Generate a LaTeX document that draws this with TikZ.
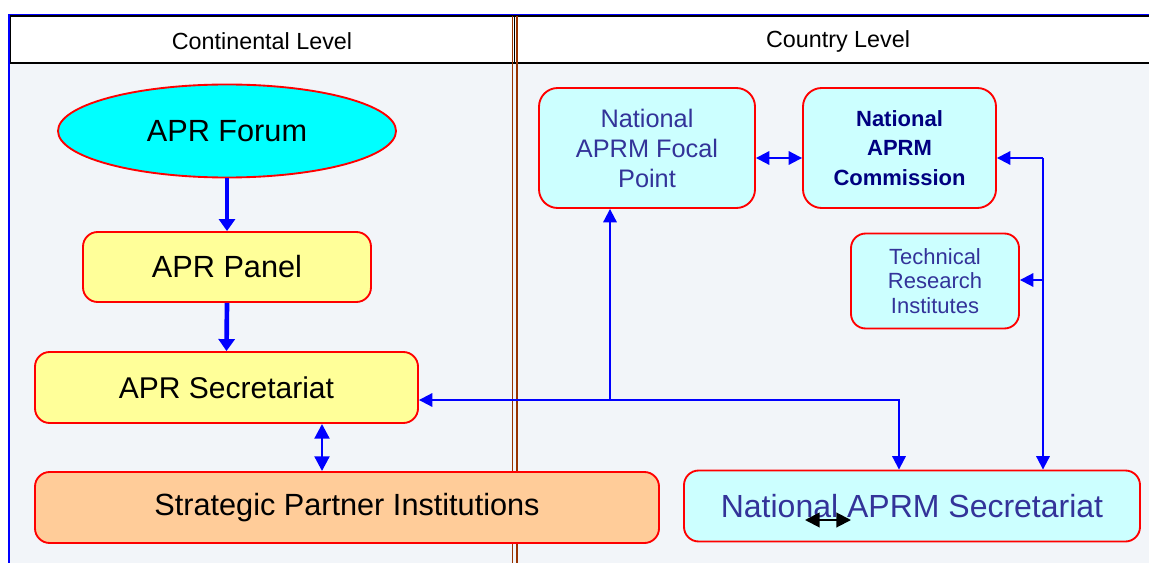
\documentclass[tikz,border=0pt]{standalone}
\usepackage{fontspec}
\setmainfont{Liberation Sans}
\usetikzlibrary{shapes.geometric,arrows.meta}
\definecolor{bgfill}{RGB}{242,245,249}
\definecolor{aprblue}{RGB}{0,0,255}
\definecolor{divbrown}{RGB}{153,51,0}
\definecolor{forumcyan}{RGB}{0,255,255}
\definecolor{cyanbox}{RGB}{204,255,255}
\definecolor{yellowbox}{RGB}{255,255,153}
\definecolor{peachbox}{RGB}{255,204,153}
\definecolor{textblue}{RGB}{51,51,153}
\definecolor{textnavy}{RGB}{0,0,128}
\newcommand{\fsz}[2]{\fontsize{#1}{#2}\selectfont}
\begin{document}
\begin{tikzpicture}[x=0.75pt,y=-0.75pt]
        \useasboundingbox (0,0) rectangle (1149,563);
        % background, header and divider
        \fill[bgfill] (10,63) rectangle (1149,563);
        \fill[white] (10,16) rectangle (1149,63);
        \draw[line width=1.2pt] (1149,16) -- (10,16) -- (10,63) -- (1149,63);
        \draw[aprblue,line width=1pt] (1149,14.5) -- (9,14.5) -- (9,563);
        \draw[divbrown,line width=1.1pt] (512.5,16) -- (512.5,563);
        \draw[divbrown,line width=1.1pt] (517,16) -- (517,563);
        \draw[line width=0.8pt] (514.7,16) -- (514.7,63);

        \node at (262,41) (contlevel) {\fsz{17.5pt}{20pt}Continental Level};
        \node at (838,41) (countrylevel) {\fsz{17.5pt}{20pt}Country Level};

        \begin{scope}[every node/.style={draw=red,line width=1.4pt,rounded corners=11pt,inner sep=2pt,align=center}]
          \node[ellipse,fill=forumcyan,rounded corners=0pt,minimum width=253.5pt,minimum height=69.75pt,
            font=\fsz{23pt}{26pt}] at (227,131) (forum) {APR Forum};
          \node[fill=yellowbox,minimum width=216pt,minimum height=52.5pt,
            font=\fsz{23pt}{26pt}] at (227,267) (panel) {APR Panel};
          \node[fill=yellowbox,minimum width=287.25pt,minimum height=53.25pt,
            font=\fsz{22.5pt}{26pt}] at (226.5,387.5) (aprsec) {APR Secretariat};
          \node[fill=peachbox,minimum width=468pt,minimum height=53.25pt,
            font=\fsz{23pt}{26pt}] at (347,507.5) (partners) {Strategic Partner Institutions};
          \node[fill=cyanbox,text=textblue,rounded corners=14pt,minimum width=162pt,minimum height=90pt,
            font=\fsz{19pt}{22.5pt}] at (647,148) (focal) {National\\APRM Focal\\Point};
          \node[fill=cyanbox,text=textnavy,rounded corners=14pt,minimum width=144.75pt,minimum height=90pt,
            font=\bfseries\fsz{16.5pt}{22pt}] at (899.5,148) (commission) {National\\APRM\\Commission};
          \node[fill=cyanbox,text=textblue,minimum width=126pt,minimum height=71.25pt,
            font=\fsz{16.5pt}{18.5pt}] at (935,281) (techres) {Technical\\Research\\Institutes};
          \node[fill=cyanbox,text=textblue,minimum width=342pt,minimum height=53.25pt,
            font=\fsz{24pt}{26pt}] at (912,506) (natsec) {National APRM Secretariat};
        \end{scope}

        \coordinate (secpart) at (322,0);
        \coordinate (jfocal) at (610,400);
        \coordinate (jnat) at (899,400);
        \coordinate (trunktop) at (1043,158);
        \coordinate (trunkmid) at (1043,280);
        \coordinate (strayl) at (805,520);
        \coordinate (strayr) at (851,520);

        \begin{scope}[aprblue]
          \draw[line width=3.5pt,-{Triangle[length=9pt,width=12pt]}] (forum.south) -- (panel.north);
          \draw[line width=3.5pt,-{Triangle[length=9pt,width=12pt]}] (panel.south) -- (aprsec.north);
          \draw[line width=2.2pt,{Triangle[length=11pt,width=11pt]}-{Triangle[length=11pt,width=11pt]}]
            (aprsec.south -| secpart) -- (partners.north -| secpart);
        \end{scope}

        \begin{scope}[aprblue,line width=1.5pt,>={Triangle[length=10pt,width=10pt]}]
          \draw[->] (jfocal) -- (aprsec.east |- jfocal);
          \draw[->] (jfocal) -- (focal.south -| jfocal);
          \draw[->] (jfocal) -- (jnat) -- (natsec.north -| jnat);
          \draw[<->] ([yshift=-7.5pt]focal.east) -- ([yshift=-7.5pt]commission.west);
          \draw[->] (trunktop) -- ([yshift=-7.5pt]commission.east);
          \draw[->] (trunktop) -- (natsec.north -| trunktop);
          \draw[->] (trunkmid) -- (techres.east |- trunkmid);
        \end{scope}

        \draw[line width=1.5pt,{Triangle[length=11pt,width=11pt]}-{Triangle[length=11pt,width=11pt]}] (strayl) -- (strayr);
      \end{tikzpicture}
\end{document}
